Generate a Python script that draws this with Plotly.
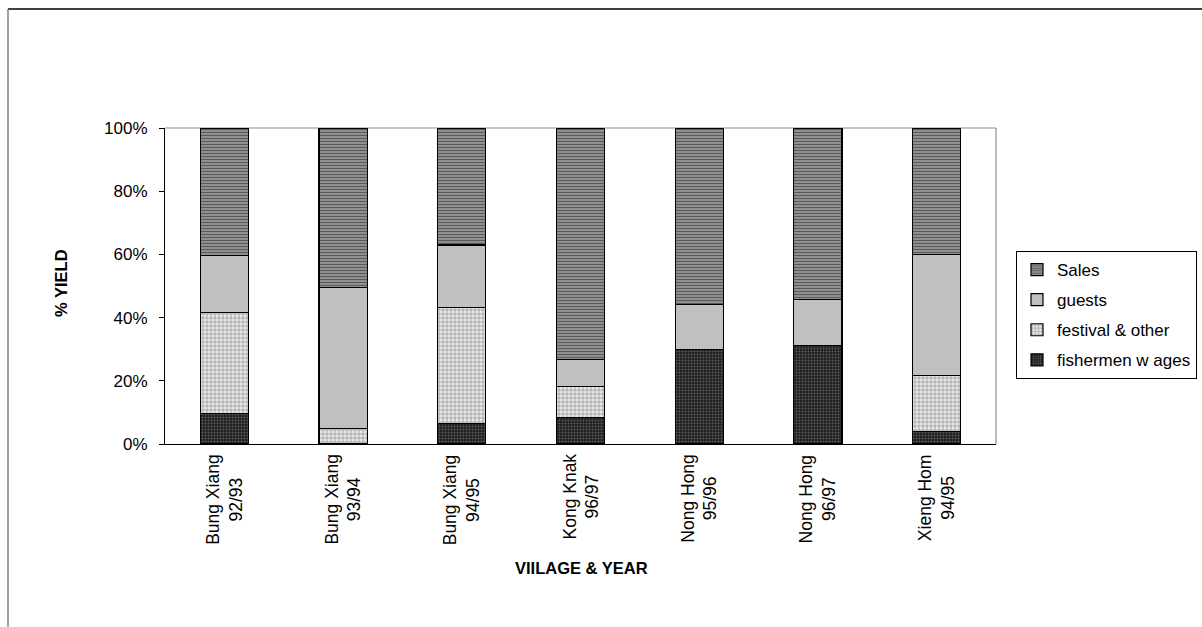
import plotly.graph_objects as go

# Village / season categories (line break splits village name and year)
categories = [
    "Bung Xiang<br>92/93",
    "Bung Xiang<br>93/94",
    "Bung Xiang<br>94/95",
    "Kong Knak<br>96/97",
    "Nong Hong<br>95/96",
    "Nong Hong<br>96/97",
    "Xieng Hom<br>94/95",
]

# Share of the catch (% of yield) per use
fishermen_wages = [9.7, 0.0, 6.4, 8.4, 29.8, 31.2, 4.0]
festival_other = [31.9, 4.9, 36.7, 9.8, 0.0, 0.0, 17.7]
guests = [18.0, 44.7, 19.9, 8.5, 14.4, 14.5, 38.3]
sales = [40.4, 50.4, 37.0, 73.3, 55.8, 54.3, 40.0]

y_ticks = [0, 20, 40, 60, 80, 100]
y_tick_labels = [f"{v}%" for v in y_ticks]

FONT = "Arial, Liberation Sans, sans-serif"

W, H = 1202, 627
L, R, T, B = 165, 996, 128, 444  # plot area in pixels


def px_x(px):
    return (px - L) / (R - L)


def px_y(py):
    return (B - py) / (B - T)


# stacked bottom to top; legend lists them top to bottom
series = [
    ("fishermen w ages", fishermen_wages,
     dict(shape=".", bgcolor="#1e1e1e", fgcolor="#5c5c5c", size=3, solidity=0.35)),
    ("festival & other", festival_other,
     dict(shape="+", bgcolor="#e8e8e8", fgcolor="#8e8e8e", size=4, solidity=0.3)),
    ("guests", guests, None),
    ("Sales", sales,
     dict(shape="-", bgcolor="#959595", fgcolor="#5a5a5a", size=3, solidity=0.4)),
]

fig = go.Figure()
for i, (name, vals, pat) in enumerate(series):
    marker = dict(color="#c0c0c0", line=dict(color="#000000", width=1.2))
    if pat is not None:
        marker["pattern"] = dict(fillmode="replace", **pat)
    fig.add_trace(go.Bar(
        x=categories, y=vals, name=name, marker=marker,
        legendgroup=name, legendrank=1000 - i,
    ))

# Category labels under each bar, rotated, lines centred
annotations = []
for c in categories:
    annotations.append(dict(
        x=c, y=0, xref="x", yref="paper", text=c, showarrow=False,
        textangle=-90, xanchor="center", yanchor="top", yshift=-8,
        align="center", font=dict(family=FONT, size=17.5, color="#000000"),
    ))

annotations.append(dict(
    x=px_x(581), y=px_y(568), xref="paper", yref="paper",
    text="<b>VIILAGE & YEAR</b>", showarrow=False,
    xanchor="center", yanchor="middle",
    font=dict(family=FONT, size=16.5, color="#000000"),
))
annotations.append(dict(
    x=px_x(61), y=px_y(283), xref="paper", yref="paper",
    text="<b>% YIELD</b>", showarrow=False, textangle=-90,
    xanchor="center", yanchor="middle",
    font=dict(family=FONT, size=16.5, color="#000000"),
))

shapes = [
    # plot area frame (top and right edges)
    dict(type="line", xref="paper", yref="paper", x0=0, y0=1, x1=1, y1=1,
         line=dict(color="#8c8c8c", width=1.2), layer="below"),
    dict(type="line", xref="paper", yref="paper", x0=1, y0=0, x1=1, y1=1,
         line=dict(color="#8c8c8c", width=1.2), layer="below"),
    # outer chart border
    dict(type="line", xref="paper", yref="paper",
         x0=px_x(8), y0=px_y(9), x1=px_x(1202), y1=px_y(9),
         line=dict(color="#000000", width=1.5)),
    dict(type="line", xref="paper", yref="paper",
         x0=px_x(8), y0=px_y(9), x1=px_x(8), y1=px_y(627),
         line=dict(color="#808080", width=1.5)),
]

fig.update_layout(
    width=W, height=H,
    margin=dict(l=L, r=W - R, t=T, b=H - B, autoexpand=False),
    paper_bgcolor="#ffffff", plot_bgcolor="#ffffff",
    barmode="stack", bargap=0.595,
    font=dict(family=FONT, size=17, color="#000000"),
    showlegend=True,
    legend=dict(
        x=px_x(1016), y=px_y(251), xanchor="left", yanchor="top",
        traceorder="grouped", bordercolor="#000000", borderwidth=1,
        bgcolor="#ffffff", font=dict(family=FONT, size=17, color="#000000"),
        itemwidth=30, tracegroupgap=5,
    ),
    xaxis=dict(
        showline=True, linecolor="#000000", linewidth=1.2,
        ticks="", showticklabels=False, showgrid=False, zeroline=False,
        range=[-0.5, len(categories) - 0.5],
    ),
    yaxis=dict(
        range=[0, 100], tickmode="array", tickvals=y_ticks, ticktext=y_tick_labels,
        showline=True, linecolor="#000000", linewidth=1.2,
        ticks="outside", ticklen=5, tickcolor="#000000", tickwidth=1.2,
        ticklabelstandoff=8,
        showgrid=False, zeroline=False,
        tickfont=dict(family=FONT, size=17, color="#000000"),
    ),
    annotations=annotations,
    shapes=shapes,
)

fig.write_html("out.html")
